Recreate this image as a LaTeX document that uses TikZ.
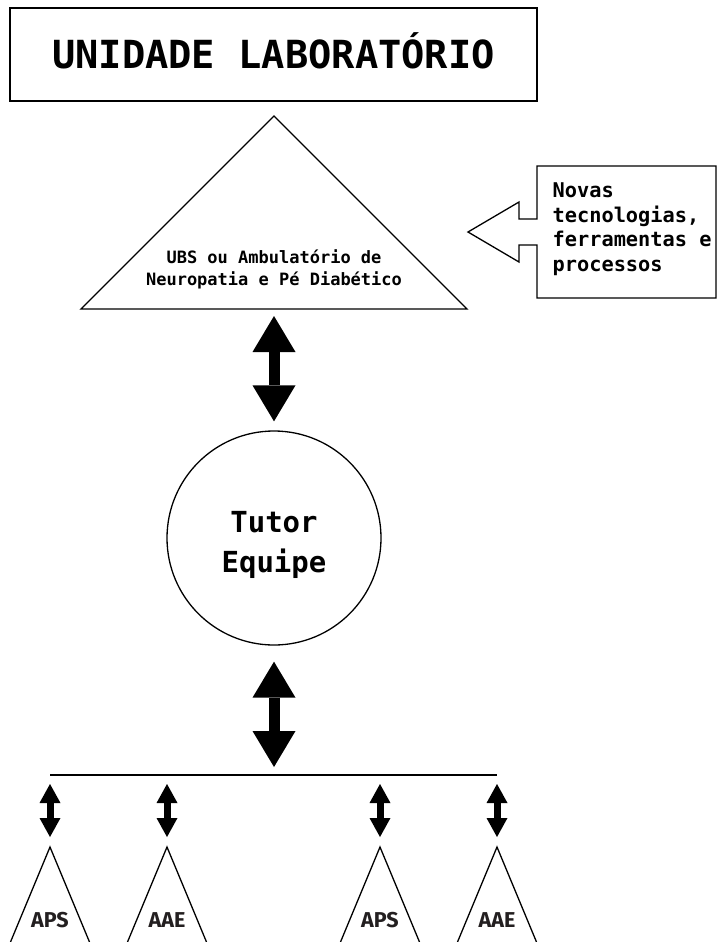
\documentclass[tikz,border=0pt]{standalone}
\usepackage{fontspec}
\usepackage{tikz}
\usetikzlibrary{arrows.meta}
\newfontfamily\consfont{DejaVu Sans Mono}
\newfontfamily\apsfont{Fira Sans}
\definecolor{textgray}{HTML}{231F20}

\begin{document}
\begin{tikzpicture}[x=1pt, y=-1pt, line width=1.3pt,
  bigarrow/.style={line width=11pt, {Triangle[length=36pt, width=43pt, line width=0pt]}-{Triangle[length=36pt, width=43pt, line width=0pt]}},
  smallarrow/.style={line width=7pt, {Triangle[length=19pt, width=21pt, line width=0pt]}-{Triangle[length=19pt, width=21pt, line width=0pt]}},
  apstext/.style={font=\apsfont\bfseries\fontsize{21.5}{24}\selectfont, text=textgray, anchor=base, inner sep=0pt}]
\useasboundingbox (0,0) rectangle (718,942);

\node[draw, minimum width=527pt, minimum height=93pt, inner sep=0pt, text height=27pt, text depth=0pt, font=\consfont\bfseries\fontsize{38.7}{46}\selectfont] (lab) at (273.5,54.5) {UNIDADE LABORATÓRIO};

% triangulo UBS
\coordinate (ubstop) at (274,116);
\coordinate (ubsbase) at (274,309);
\draw (81,309) -- (ubstop) -- (467,309) -- cycle;
\node[align=center, inner sep=0pt, font=\consfont\bfseries\fontsize{17}{22}\selectfont] (ubs) at (274,269) {UBS ou Ambulatório de\\Neuropatia e Pé Diabético};

% seta com novas tecnologias
\draw (716,166) -- (537,166) -- (537,219) -- (519,219) -- (519,202) -- (468,232) -- (519,262) -- (519,245) -- (537,245) -- (537,298) -- (716,298) -- cycle;
\node[anchor=north west, align=left, inner sep=0pt, font=\consfont\bfseries\fontsize{20.3}{24.5}\selectfont] (novas) at (552,182.5) {Novas\\tecnologias,\\ferramentas e\\processos};

% tutor
\node[draw, circle, minimum size=214pt, inner sep=0pt] (tutor) at (274,538) {};
\node[align=center, inner sep=0pt, font=\consfont\bfseries\fontsize{29}{40}\selectfont] (tutortext) at (274,545) {Tutor\\Equipe};
\draw[bigarrow, shorten <=7pt, shorten >=9pt] (ubsbase) -- (tutor.north);

\coordinate (bar) at (274,775);
\draw[bigarrow, shorten <=16pt, shorten >=8pt] (tutor.south) -- (bar);
\coordinate (barleft) at (50,775);
\coordinate (barright) at (497,775);
\draw (barleft) -- (barright);

% APS e AAE
\coordinate (bar2) at (167,775);
\coordinate (bar3) at (380,775);
\coordinate (aps1) at (50,847);
\coordinate (aae1) at (167,847);
\coordinate (aps2) at (380,847);
\coordinate (aae2) at (497,847);
\draw[smallarrow, shorten <=9pt, shorten >=10pt] (barleft) -- (aps1);
\draw[smallarrow, shorten <=9pt, shorten >=10pt] (bar2) -- (aae1);
\draw[smallarrow, shorten <=9pt, shorten >=10pt] (bar3) -- (aps2);
\draw[smallarrow, shorten <=9pt, shorten >=10pt] (barright) -- (aae2);
\draw (10.5,942) -- (aps1) -- (89.5,942);
\draw (127.5,942) -- (aae1) -- (206.5,942);
\draw (340.5,942) -- (aps2) -- (419.5,942);
\draw (457.5,942) -- (aae2) -- (536.5,942);
\node[apstext] (apslabel1) at (50,927) {APS};
\node[apstext] (aaelabel1) at (167,927) {AAE};
\node[apstext] (apslabel2) at (380,927) {APS};
\node[apstext] (aaelabel2) at (497,927) {AAE};
\end{tikzpicture}
\end{document}
